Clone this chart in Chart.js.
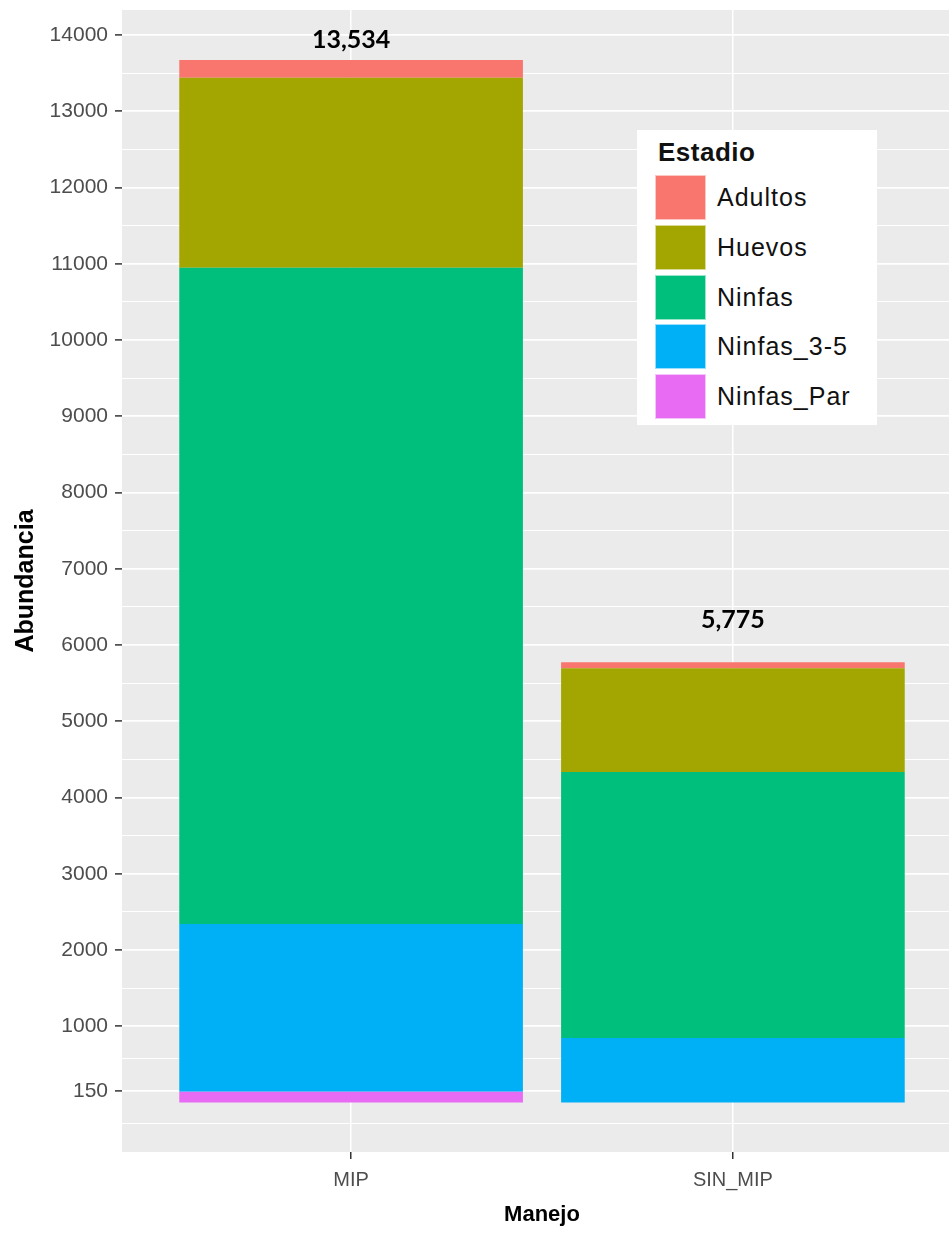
<!DOCTYPE html>
<html lang="es">
<head>
<meta charset="utf-8">
<title>Abundancia por manejo</title>
<script src="https://cdn.jsdelivr.net/npm/chart.js@4.4.1/dist/chart.umd.min.js"></script>
<style>
  html, body { margin: 0; padding: 0; background: #fff; overflow: hidden; }
  .lienzo { position: absolute; left: 0; top: 0; }
  .leyenda {
    position: absolute; left: 637px; top: 130px; width: 240px; height: 295px;
    background: #fff; font-family: "Liberation Sans", Arial, sans-serif; color: #111;
  }
  .leyenda h4 { position: absolute; left: 21px; top: 9px; margin: 0; font: bold 26px/26px "Liberation Sans", Arial, sans-serif; letter-spacing: .5px; }
  .leyenda ul { position: absolute; left: 18px; top: 43px; margin: 0; padding: 0; list-style: none; }
  .leyenda li { display: flex; align-items: center; height: 49.7px; }
  .leyenda .caja { width: 51px; height: 45px; box-sizing: border-box; border: 1px solid rgba(255,255,255,.6); }
  .leyenda .txt { margin-left: 11px; font-size: 25px; letter-spacing: 1px; }
</style>
</head>
<body>
<canvas id="grafico" class="lienzo" width="970" height="1233"></canvas>
<div class="leyenda" data-leyenda></div>
<script>
// ---------------------------------------------------------------- datos
const categorias = ["MIP", "SIN_MIP"];
const estadios = ["Adultos", "Huevos", "Ninfas", "Ninfas_3-5", "Ninfas_Par"];
const coloresEstadio = ["#F8766D", "#A3A500", "#00BF7D", "#00B0F6", "#E76BF3"];

const adultos = [232, 78];
const huevos = [2494, 1361];
const ninfas = [8608, 3491];
const ninfas35 = [2200, 845];
const ninfasPar = [140, 0];

const totales = ["13,534", "5,775"];
const alturaTotales = [13940, 6330];

const yMarcas = [150, 1000, 2000, 3000, 4000, 5000, 6000, 7000, 8000, 9000, 10000, 11000, 12000, 13000, 14000];
const yEtiquetas = ["150", "1000", "2000", "3000", "4000", "5000", "6000", "7000", "8000", "9000", "10000", "11000", "12000", "13000", "14000"];
const yMenores = [-275, 575, 1500, 2500, 3500, 4500, 5500, 6500, 7500, 8500, 9500, 10500, 11500, 12500, 13500];

// orden de apilado: de abajo hacia arriba
const series = [ninfasPar, ninfas35, ninfas, huevos, adultos];
const ordenApilado = [4, 3, 2, 1, 0]; // índice en estadios

const FUENTE = '"Liberation Sans", Arial, sans-serif';
Chart.defaults.font.family = FUENTE;

// ---------------------------------------------------------------- plugins
const fondoPanel = {
  id: "fondoPanel",
  beforeDraw(chart) {
    const { ctx, chartArea: a } = chart;
    ctx.save();
    ctx.fillStyle = "#EBEBEB";
    ctx.fillRect(a.left, a.top, a.right - a.left, a.bottom - a.top);
    ctx.restore();
  },
};

const rotulosTotales = {
  id: "rotulosTotales",
  afterDatasetsDraw(chart) {
    const { ctx, scales: { x, y } } = chart;
    ctx.save();
    ctx.font = 'bold 25px Lato, "Liberation Sans", sans-serif';
    ctx.fillStyle = "#000";
    ctx.textAlign = "center";
    ctx.textBaseline = "middle";
    totales.forEach((t, i) => {
      ctx.fillText(t, x.getPixelForValue(i + 1), y.getPixelForValue(alturaTotales[i]));
    });
    ctx.restore();
  },
};

// ---------------------------------------------------------------- gráfico
const datasets = series.map((valores, k) => {
  const e = ordenApilado[k];
  return {
    label: estadios[e],
    data: valores.map((v, i) => ({ x: i + 1, y: v })),
    backgroundColor: coloresEstadio[e],
    borderWidth: 0,
    categoryPercentage: 0.9,
    barPercentage: 1,
  };
});

const esMenor = (c) => c.tick && c.tick.menor;

new Chart(document.getElementById("grafico"), {
  type: "bar",
  data: { datasets },
  plugins: [fondoPanel, rotulosTotales],
  options: {
    responsive: false,
    animation: false,
    layout: { padding: { top: 10, right: 8, left: 0, bottom: 0 } },
    plugins: { legend: { display: false }, tooltip: { enabled: false } },
    scales: {
      x: {
        type: "linear",
        stacked: true,
        offset: false,
        min: 0.4,
        max: 2.6,
        afterBuildTicks: (s) => { s.ticks = categorias.map((_, i) => ({ value: i + 1 })); },
        afterFit: (s) => { s.height = 81; s.paddingLeft = 0; s.paddingRight = 0; },
        border: { display: false },
        grid: { offset: false, color: "#FFFFFF", lineWidth: 1.5, tickColor: "#333333", tickLength: 7, tickWidth: 1.5 },
        ticks: {
          autoSkip: false,
          padding: 9,
          color: "#4D4D4D",
          font: { size: 20 },
          callback: (v) => categorias[v - 1] ?? "",
        },
        title: {
          display: true,
          text: "Manejo",
          color: "#000",
          font: { size: 22, weight: "bold" },
          padding: { top: 0, bottom: 5 },
        },
      },
      y: {
        type: "linear",
        stacked: true,
        min: -650,
        max: 14330,
        afterBuildTicks: (s) => {
          const marcas = yMarcas.map((v) => ({ value: v, menor: false }))
            .concat(yMenores.map((v) => ({ value: v, menor: true })));
          s.ticks = marcas.sort((a, b) => a.value - b.value);
        },
        afterFit: (s) => { s.width = 122; s.paddingTop = 0; s.paddingBottom = 0; },
        border: { display: false },
        grid: {
          color: "#FFFFFF",
          lineWidth: (c) => (esMenor(c) ? 1 : 1.8),
          tickColor: (c) => (esMenor(c) ? "rgba(0,0,0,0)" : "#333333"),
          tickWidth: 1.5,
          tickLength: 7,
        },
        ticks: {
          autoSkip: false,
          padding: 7,
          color: "#4D4D4D",
          font: { size: 21 },
          callback: (v) => {
            const i = yMarcas.indexOf(v);
            return i >= 0 ? yEtiquetas[i] : "";
          },
        },
        title: {
          display: true,
          text: "Abundancia",
          color: "#000",
          font: { size: 25, weight: "bold" },
          padding: { top: 11, bottom: 0 },
        },
      },
    },
  },
});

// ---------------------------------------------------------------- leyenda
function renderLeyenda() {
  const host = document.querySelector("[data-leyenda]");
  host.innerHTML = `
    <h4>Estadio</h4>
    <ul>${estadios.map((e, i) => `
      <li><span class="caja" style="background:${coloresEstadio[i]}"></span><span class="txt">${e}</span></li>`).join("")}
    </ul>`;
}
renderLeyenda();
</script>
</body>
</html>
